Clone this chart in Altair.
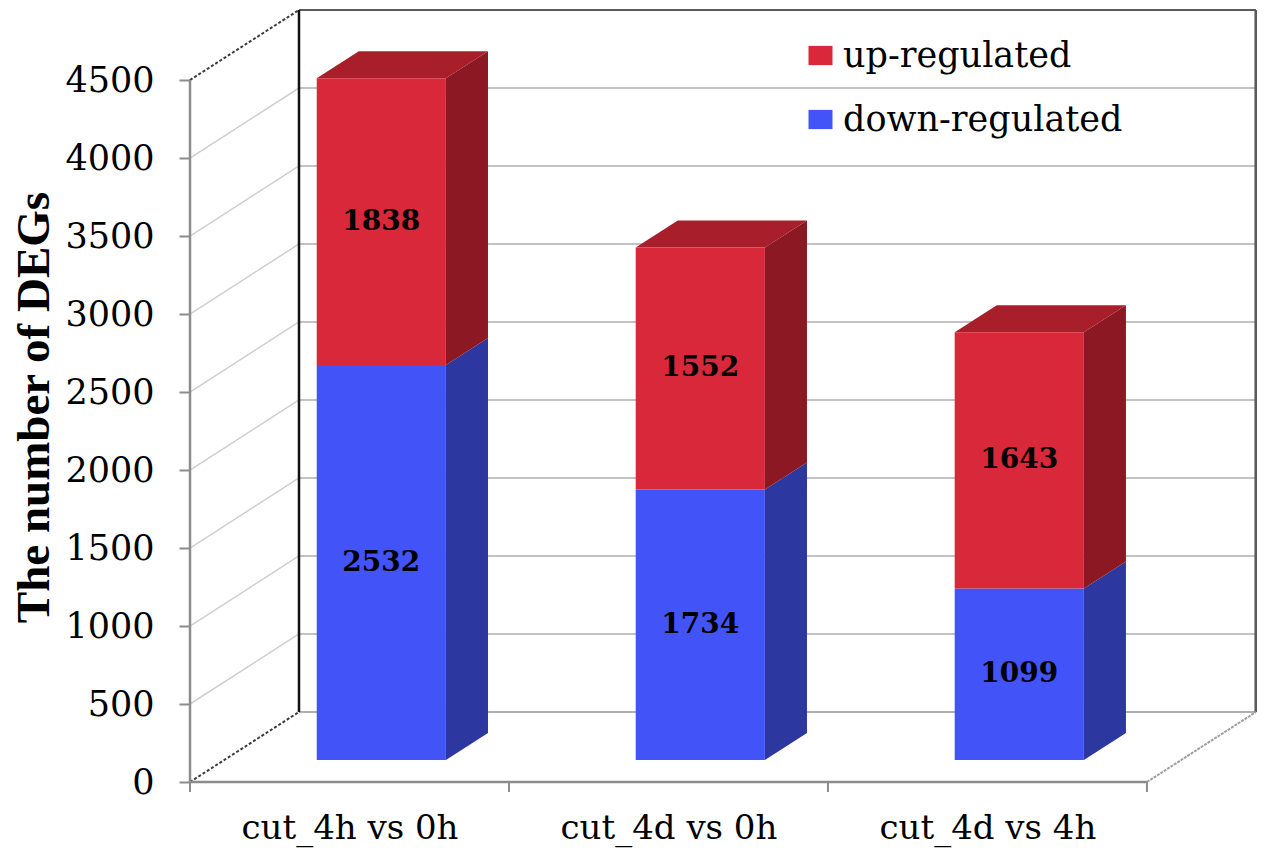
import json
import altair as alt
import pandas as pd

# ---------------- data ----------------
CATEGORIES = ["cut_4h vs 0h", "cut_4d vs 0h", "cut_4d vs 4h"]
SERIES = ["up-regulated", "down-regulated"]
UP = [1838, 1552, 1643]
DOWN = [2532, 1734, 1099]
Y_TICKS = [0, 500, 1000, 1500, 2000, 2500, 3000, 3500, 4000, 4500]

# ---------------- styles / geometry ----------------
RED, RED_SIDE, RED_TOP = "#d8283a", "#8c1824", "#a81e2a"
BLUE, BLUE_SIDE, BLUE_TOP = "#4254f8", "#2c37a0", "#3440c0"
DX, DY = 0.3417, 449      # depth of the 3-D box (x in band units, y in count units)
F0, F1 = 0.314, 0.70      # front / back depth fraction of the bars
BC, BH = 0.4925, 0.2025   # bar centre and half width within a band
XMAX = 3.345
YMAX = Y_TICKS[-1] + DY
W, H = 1067, 772

XS = alt.Scale(domain=[0, XMAX], nice=False, zero=False)
YS = alt.Scale(domain=[0, YMAX], nice=False, zero=False)

# ---------------- faces of the 3-D bars ----------------
front, side, top, labels = [], [], [], []
for i, cat in enumerate(CATEGORIES):
    L, R = i + BC - BH, i + BC + BH
    segs = [("down-regulated", 0, DOWN[i]), ("up-regulated", DOWN[i], DOWN[i] + UP[i])]
    for s, y0, y1 in segs:
        fid = f"{i}-{s}"
        front.append(dict(series=s, x=L + F0 * DX, x2=R + F0 * DX,
                          y=y0 + F0 * DY, y2=y1 + F0 * DY))
        for f in (F0, F1):
            side.append(dict(series=s, fid=fid, x=R + f * DX,
                             lo=y0 + f * DY, hi=y1 + f * DY))
        labels.append(dict(x=(L + R) / 2 + F0 * DX, y=(y0 + y1) / 2 + F0 * DY,
                           text=str(y1 - y0)))
    t = DOWN[i] + UP[i]
    for f in (F0, F1):
        top.append(dict(series="up-regulated", fid=str(i), y=t + f * DY,
                        xl=L + f * DX, xr=R + f * DX))

front_df = pd.DataFrame(front)
side_df = pd.DataFrame(side)
top_df = pd.DataFrame(top)
labels_df = pd.DataFrame(labels)

# ---------------- box / wall lines ----------------
NC = len(CATEGORIES)
YT = Y_TICKS[-1]


def seg(x, y, x2, y2):
    return dict(x=x, y=y, x2=x2, y2=y2)


back_grid = [seg(DX, v + DY, NC + DX, v + DY) for v in Y_TICKS[1:-1]]
back_floor = [seg(DX, DY, NC + DX, DY)]
back_top = [seg(DX, YT + DY, NC + DX, YT + DY)]
side_grid = [seg(0, v, DX, v + DY) for v in Y_TICKS[1:-1]]
side_edges = [seg(0, 0, DX, DY), seg(0, YT, DX, YT + DY)]
back_left = [seg(DX, DY, DX, YT + DY)]
back_right = [seg(NC + DX, DY, NC + DX, YT + DY)]
front_axis = [seg(0, 0, 0, YT), seg(0, 0, NC, 0)]
right_floor = [seg(NC, 0, NC + DX, DY)]
floor_ticks = [dict(x=k, y=0, y2=0) for k in range(NC + 1)]

label_expr = json.dumps(CATEGORIES) + "[floor(datum.value)]"

X_AXIS = alt.Axis(values=[i + 0.5 for i in range(NC)], labelExpr=label_expr,
                  ticks=False, domain=False, grid=False,
                  labelFont="DejaVu Serif", labelFontSize=34, labelColor="black",
                  labelPadding=56, labelBaseline="alphabetic", labelLimit=500,
                  labelOverlap=False, labelFlush=False, title="")
Y_AXIS = alt.Axis(values=Y_TICKS, format="d", grid=False, domain=False,
                  tickSize=11, tickColor="#8c8c8c", tickWidth=2,
                  labelFont="DejaVu Serif", labelFontSize=35, labelColor="black",
                  labelPadding=25, labelOverlap=False, labelFlush=False,
                  title="The number of DEGs", titleFont="Liberation Serif",
                  titleFontSize=47, titleFontWeight="bold", titleColor="black",
                  titleAngle=270, titleX=-156, titleY=397,
                  titleAlign="center", titleBaseline="middle")


def X(field, **kw):
    return alt.X(field, scale=XS, axis=X_AXIS, **kw)


def Y(field, **kw):
    return alt.Y(field, scale=YS, axis=Y_AXIS, **kw)


def rules(rows, color, width, dash=None, **extra):
    mk = dict(color=color, strokeWidth=width, **extra)
    if dash:
        mk["strokeDash"] = dash
    return alt.Chart(pd.DataFrame(rows)).mark_rule(**mk).encode(
        x=X("x:Q"), y=Y("y:Q"), x2="x2:Q", y2="y2:Q")


layers = [
    rules(back_grid, "#c2c2c2", 2),
    rules(back_floor, "#b0b0b0", 2),
    rules(back_top, "#5a5a5a", 2),
    rules(side_grid, "#cfcfcf", 1.5),
    rules(side_edges, "#3c3c3c", 2, dash=[3, 2]),
    rules(back_left, "#111111", 2.5),
    rules(back_right, "#5a5a5a", 3),
    rules(front_axis, "#8c8c8c", 2.5),
    rules(right_floor, "#a0a0a0", 2, dash=[3, 1]),
    alt.Chart(pd.DataFrame(floor_ticks)).mark_rule(color="#8c8c8c", strokeWidth=2, y2Offset=10).encode(
        x=X("x:Q"), y=Y("y:Q"), y2="y2:Q"),
    # side faces
    alt.Chart(side_df).mark_area(orient="vertical").encode(
        x=X("x:Q"),
        y=Y("lo:Q", stack=None),
        y2="hi:Q",
        detail="fid:N",
        color=alt.Color("series:N", scale=alt.Scale(domain=SERIES, range=[RED_SIDE, BLUE_SIDE]),
                        legend=None)),
    # top faces
    alt.Chart(top_df).mark_area(orient="horizontal").encode(
        y=Y("y:Q"),
        x=X("xl:Q", stack=None),
        x2="xr:Q",
        detail="fid:N",
        color=alt.Color("series:N", scale=alt.Scale(domain=SERIES, range=[RED_TOP, BLUE_TOP]),
                        legend=None)),
    # front faces
    alt.Chart(front_df).mark_rect().encode(
        x=X("x:Q"), x2="x2:Q",
        y=Y("y:Q"), y2="y2:Q",
        color=alt.Color("series:N", scale=alt.Scale(domain=SERIES, range=[RED, BLUE]),
                        legend=alt.Legend(orient="none", legendX=613, legendY=28, title=None,
                                          symbolType="M-1,-0.8H1V0.8H-1Z", symbolSize=576,
                                          symbolStrokeWidth=0, labelFont="DejaVu Serif",
                                          labelFontSize=35, labelColor="black", labelOffset=5,
                                          labelLimit=500, rowPadding=28, padding=0))),
    # value labels
    alt.Chart(labels_df).mark_text(font="DejaVu Serif", fontSize=28, fontWeight="bold",
                                   color="black", align="center", baseline="middle").encode(
        x=X("x:Q"), y=Y("y:Q"), text="text:N"),
]

chart = alt.layer(*layers).properties(
    width=W, height=H,
    padding={"left": 182, "top": 2, "right": 0, "bottom": 66},
    autosize=alt.AutoSizeParams(type="none"),
    background="white",
).resolve_scale(color="independent").configure_view(stroke="transparent")

chart.save("out.html", embed_options={"renderer": "svg", "actions": False})
